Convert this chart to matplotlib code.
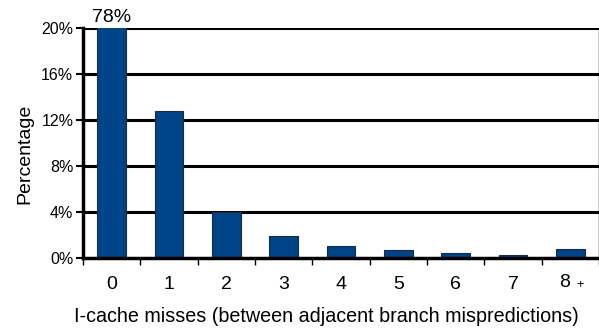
import matplotlib
matplotlib.use("Agg")
import matplotlib.pyplot as plt
import numpy as np

plt.rcParams["font.family"] = ["Liberation Sans", "DejaVu Sans"]

# percentages per number of I-cache misses
categories = ["0", "1", "2", "3", "4", "5", "6", "7", "8"]
values = [78, 12.8, 4.0, 1.9, 1.05, 0.68, 0.43, 0.27, 0.75]
yticks = [0, 4, 8, 12, 16, 20]

fig = plt.figure(figsize=(5.99, 3.29), dpi=100)
ax = fig.add_axes([0.1386, 0.2158, 0.8617, 0.6991])

x = np.arange(len(categories))
ax.bar(x, values, width=0.5, color="#004488", edgecolor="#1a2a40", linewidth=0.8, zorder=3)
ax.set_xlim(-0.5, len(categories) - 0.5)
ax.set_ylim(0, 20)

# clipped first bar gets its real value on top
ax.text(x[0], 20.2, f"{values[0]:.0f}%", ha="center", va="bottom", fontsize=14)

ax.set_yticks(yticks)
ax.set_yticklabels([f"{v}%" for v in yticks], fontsize=11.5)
for v in yticks[1:]:
    ax.axhline(v, color="black", linewidth=2.2, zorder=1)

ax.set_xticks(x)
ax.set_xticklabels(categories[:-1] + [""], fontsize=14)
ax.set_xticks(np.arange(len(categories) + 1) - 0.5, minor=True)
ax.tick_params(axis="x", which="major", length=0, pad=13)
ax.tick_params(axis="x", which="minor", length=5, width=1, direction="out")
ax.tick_params(axis="y", length=5, width=1.5, direction="out", pad=2)
ax.text(x[-1] - 0.1, -2.15, categories[-1], ha="center", va="center", fontsize=14)
ax.text(x[-1] + 0.16, -2.35, "+", ha="center", va="center", fontsize=9)

for side in ["left", "bottom"]:
    ax.spines[side].set_linewidth(2.5)
    ax.spines[side].set_zorder(4)
ax.spines["right"].set_linewidth(1)
ax.spines["top"].set_visible(False)

ax.set_ylabel("Percentage", fontsize=14)
ax.yaxis.set_label_coords(-0.097, 0.452)
ax.set_xlabel("I-cache misses (between adjacent branch mispredictions)", fontsize=14.2)
ax.xaxis.set_label_coords(0.472, -0.213)

fig.savefig("out.png", dpi=100)
